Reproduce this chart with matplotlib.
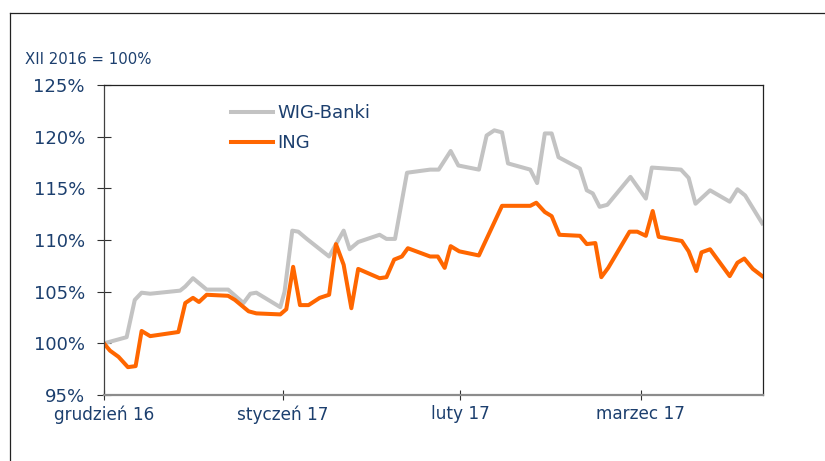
import matplotlib.pyplot as plt
from matplotlib.lines import Line2D

# x = trading session number counted from 1 Dec 2016, values in % of XII 2016
wig_x = [0.0, 2.65, 3.6, 4.4, 5.4, 8.9, 9.5, 10.4, 12.0, 14.5, 16.3, 17.1, 17.8,
         20.6, 21.1, 22.0, 22.7, 23.7, 26.3, 28.0, 28.7, 29.7, 32.2, 33.0, 34.0,
         35.4, 38.1, 39.1, 40.5, 41.4, 43.8, 44.7, 45.6, 46.5, 47.2, 49.8, 50.6,
         51.5, 52.3, 53.1, 55.6, 56.4, 57.1, 57.9, 58.8, 61.5, 63.3, 64.0, 67.4,
         68.3, 69.1, 70.8, 73.1, 74.0, 74.9, 76.9]
wig_y = [100.0, 100.6, 104.2, 104.9, 104.8, 105.1, 105.5, 106.3, 105.2, 105.2,
         103.9, 104.8, 104.9, 103.5, 105.0, 110.9, 110.8, 110.1, 108.4, 110.9,
         109.1, 109.8, 110.5, 110.1, 110.1, 116.5, 116.8, 116.8, 118.6, 117.2,
         116.8, 120.1, 120.6, 120.4, 117.4, 116.8, 115.5, 120.3, 120.3, 118.0,
         116.9, 114.8, 114.5, 113.2, 113.4, 116.1, 114.0, 117.0, 116.8, 116.0,
         113.5, 114.8, 113.7, 114.9, 114.3, 111.6]

ing_x = [0.0, 0.7, 1.7, 2.8, 3.7, 4.4, 5.4, 8.7, 9.5, 10.4, 11.1, 12.0, 14.5,
         15.3, 16.9, 17.8, 20.6, 21.3, 22.1, 22.9, 23.9, 25.2, 26.3, 27.1, 28.0,
         28.9, 29.7, 32.2, 33.0, 33.9, 34.8, 35.5, 38.1, 39.0, 39.8, 40.5, 41.5,
         43.8, 44.3, 46.5, 49.8, 50.5, 51.5, 52.3, 53.2, 55.6, 56.4, 57.4, 58.1,
         58.9, 61.4, 62.3, 63.3, 64.1, 64.8, 67.5, 68.3, 69.2, 69.8, 70.8, 73.1,
         74.0, 74.8, 75.8, 76.9]
ing_y = [100.0, 99.3, 98.7, 97.7, 97.8, 101.2, 100.7, 101.1, 103.9, 104.4,
         104.0, 104.7, 104.6, 104.2, 103.1, 102.9, 102.8, 103.3, 107.4, 103.7,
         103.7, 104.4, 104.7, 109.6, 107.6, 103.4, 107.2, 106.3, 106.4, 108.1,
         108.4, 109.2, 108.4, 108.4, 107.3, 109.4, 108.9, 108.5, 109.4, 113.3,
         113.3, 113.6, 112.7, 112.3, 110.5, 110.4, 109.6, 109.7, 106.4, 107.3,
         110.8, 110.8, 110.4, 112.8, 110.3, 109.9, 108.9, 107.0, 108.8, 109.1,
         106.5, 107.8, 108.2, 107.2, 106.5]

month_pos = [0, 20.9, 41.6, 62.7]
month_labels = ["grudzień 16", "styczeń 17", "luty 17", "marzec 17"]
y_ticks = [95, 100, 105, 110, 115, 120, 125]

navy = "#1C3F6E"

fig = plt.figure(figsize=(8.25, 4.61), dpi=100)
ax = fig.add_axes([0.126, 0.143, 0.799, 0.673])

ax.plot(wig_x, wig_y, color="#C3C3C3", lw=2.9, label="WIG-Banki", solid_joinstyle="round")
ax.plot(ing_x, ing_y, color="#FF6600", lw=2.9, label="ING", solid_joinstyle="round")

ax.set_xlim(0, 77)
ax.set_ylim(95, 125)
ax.set_yticks(y_ticks)
ax.set_yticklabels([f"{v}%" for v in y_ticks])
ax.set_xticks(month_pos)
ax.set_xticklabels(month_labels)

ax.tick_params(axis="y", direction="inout", length=9.4, width=0.8, color="#303030",
               labelsize=13, labelcolor=navy, pad=9)
ax.tick_params(axis="x", direction="inout", length=6.5, width=0.8, color="#303030",
               labelsize=12.2, labelcolor=navy, pad=4)

ax.spines["left"].set_color("#404040")
ax.spines["left"].set_linewidth(0.9)
ax.spines["bottom"].set_color("#8C8C8C")
ax.spines["bottom"].set_linewidth(1.6)
for s in ["top", "right"]:
    ax.spines[s].set_color("#222222")
    ax.spines[s].set_linewidth(0.9)

ax.legend(loc="upper left", bbox_to_anchor=(0.28, 0.774), bbox_transform=fig.transFigure,
          frameon=False, fontsize=13, labelcolor=navy, handlelength=2.3,
          handletextpad=0.25, labelspacing=0.65, borderpad=0, borderaxespad=0)

fig.text(25 / 825, 1 - 59 / 461, "XII 2016 = 100%", fontsize=10.7, color=navy, va="center")

# outer frame of the picture
fig.add_artist(Line2D([10 / 825, 10 / 825], [0, 1 - 13 / 461], color="#222222", lw=0.9,
                      transform=fig.transFigure))
fig.add_artist(Line2D([10 / 825, 1], [1 - 13 / 461, 1 - 13 / 461], color="#222222", lw=0.9,
                      transform=fig.transFigure))

fig.savefig("out.png", dpi=100)
